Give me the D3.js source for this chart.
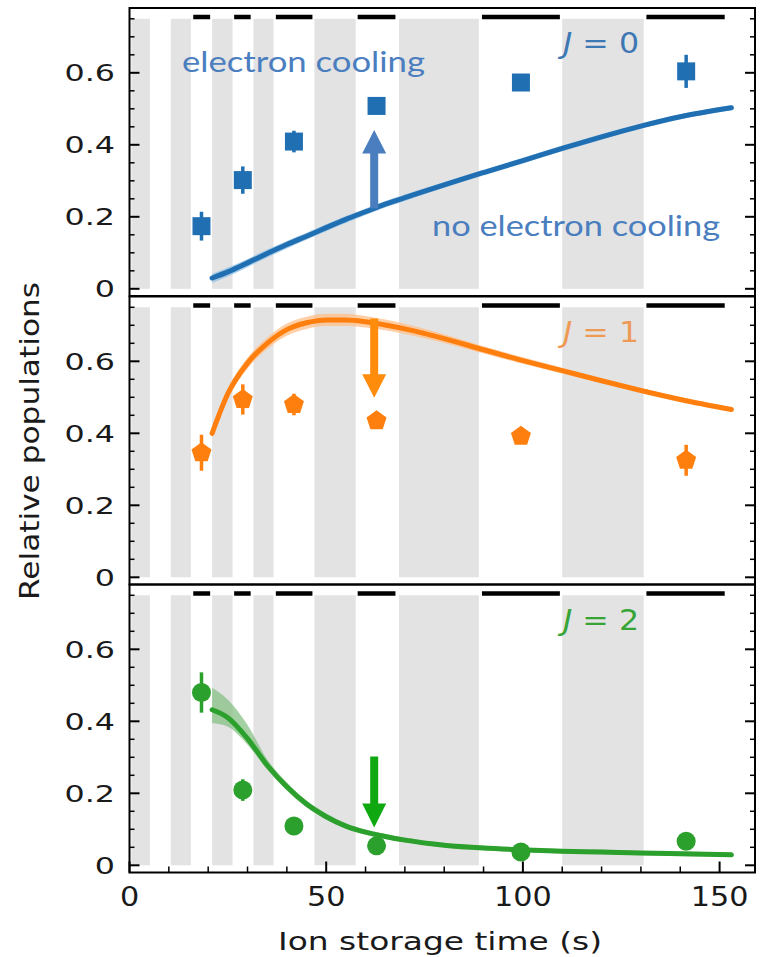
<!DOCTYPE html>
<html>
<head>
<meta charset="utf-8">
<script src="https://cdn.jsdelivr.net/npm/d3@7"></script>
<style>
  html, body { margin: 0; padding: 0; background: #fff; }
  svg { display: block; }
</style>
</head>
<body>
<svg id="chart" width="761" height="957"></svg>
<script>
// Measurement times (s) shared by the three rotational levels
const times = [18.3, 28.8, 41.8, 62.8, 99.5, 141.5];

// Measured relative populations (with electron cooling) and their uncertainties
const j0Values = [0.174, 0.302, 0.409, 0.508, 0.573, 0.604];
const j0Errors = [0.040, 0.038, 0.030, 0.015, 0.012, 0.046];
const j1Values = [0.346, 0.494, 0.480, 0.435, 0.392, 0.325];
const j1Errors = [0.050, 0.042, 0.030, 0.022, 0.018, 0.043];
const j2Values = [0.480, 0.209, 0.109, 0.054, 0.037, 0.067];
const j2Errors = [0.056, 0.030, 0.015, 0.012, 0.010, 0.012];

// Model without electron cooling: central value and uncertainty band
const modelTimes = [21, 25, 30, 35, 40, 45, 50, 55, 60, 65, 70, 80, 90, 100, 110, 120, 130, 140, 153];
const j0Model = [0.030, 0.047, 0.072, 0.098, 0.123, 0.146, 0.170, 0.193, 0.214, 0.235, 0.253, 0.289, 0.323, 0.356, 0.390, 0.422, 0.452, 0.478, 0.503];
const j0Low   = [0.016, 0.034, 0.060, 0.087, 0.112, 0.136, 0.160, 0.183, 0.205, 0.226, 0.244, 0.281, 0.315, 0.348, 0.382, 0.414, 0.445, 0.471, 0.496];
const j0High  = [0.042, 0.059, 0.083, 0.109, 0.133, 0.156, 0.179, 0.202, 0.223, 0.244, 0.262, 0.297, 0.331, 0.364, 0.398, 0.430, 0.459, 0.485, 0.510];
const j1Model = [0.400, 0.510, 0.595, 0.650, 0.688, 0.707, 0.715, 0.715, 0.710, 0.701, 0.690, 0.663, 0.632, 0.602, 0.574, 0.546, 0.519, 0.494, 0.466];
const j1Low   = [0.388, 0.496, 0.580, 0.634, 0.671, 0.690, 0.698, 0.698, 0.694, 0.686, 0.676, 0.651, 0.622, 0.593, 0.566, 0.539, 0.513, 0.488, 0.460];
const j1High  = [0.412, 0.524, 0.610, 0.666, 0.705, 0.724, 0.732, 0.732, 0.726, 0.716, 0.704, 0.675, 0.642, 0.611, 0.582, 0.553, 0.525, 0.500, 0.472];
const j2Model = [0.432, 0.410, 0.352, 0.278, 0.218, 0.170, 0.135, 0.109, 0.092, 0.080, 0.070, 0.056, 0.048, 0.043, 0.039, 0.037, 0.034, 0.032, 0.029];
const j2Low   = [0.395, 0.385, 0.335, 0.266, 0.208, 0.161, 0.127, 0.102, 0.085, 0.073, 0.064, 0.050, 0.042, 0.037, 0.033, 0.031, 0.028, 0.026, 0.023];
const j2High  = [0.493, 0.460, 0.390, 0.294, 0.230, 0.180, 0.144, 0.117, 0.099, 0.087, 0.077, 0.062, 0.054, 0.049, 0.045, 0.043, 0.040, 0.038, 0.035];

// Shaded intervals and black bars marking the measurement windows (s)
const shadeStarts = [0.5, 10.5, 21.0, 31.5, 47.0, 68.5, 110.0];
const shadeEnds   = [5.2, 15.6, 26.2, 36.6, 57.5, 88.8, 130.7];
const barStarts = [16.2, 26.6, 37.2, 58.0, 89.6, 131.4];
const barEnds   = [20.5, 30.8, 46.5, 67.6, 109.4, 151.3];

// Arrows: time, start value, head base value, tip value
const arrowTime = 62.2;
const arrowJ0 = [0.223, 0.376, 0.441];
const arrowJ1 = [0.719, 0.564, 0.499];
const arrowJ2 = [0.302, 0.172, 0.105];

// Tick labels
const xTickValues = [0, 50, 100, 150];
const yTickValues = [0, 0.2, 0.4, 0.6];
const yTickLabels = ["0", "0.2", "0.4", "0.6"];

const svg = d3.select("#chart");
const left = 129.5, right = 755;
const panelTops = [8, 296.5, 584.5];
const panelHeight = 288;

const x = d3.scaleLinear().domain([0, 159]).range([left, right]);

function stretch(sel, k) {
  sel.each(function () {
    const w = this.getComputedTextLength();
    d3.select(this).attr("textLength", w * k).attr("lengthAdjust", "spacingAndGlyphs");
  });
}

function pentagon(r) {
  const pts = d3.range(5).map(i => {
    const a = -Math.PI / 2 + i * 2 * Math.PI / 5;
    return [r * Math.cos(a), r * Math.sin(a)];
  });
  return "M" + pts.map(p => p.join(",")).join("L") + "Z";
}

const panels = [
  { values: j0Values, errors: j0Errors, model: j0Model, low: j0Low, high: j0High,
    color: "#1f6fb2", band: "#8fc0e6", label: "0", labelColor: "#3d78b4", marker: "square",
    arrow: arrowJ0, arrowColor: "#4a7ebf" },
  { values: j1Values, errors: j1Errors, model: j1Model, low: j1Low, high: j1High,
    color: "#ff7f0e", band: "#ffc08a", label: "1", labelColor: "#ee9a55", marker: "pentagon",
    arrow: arrowJ1, arrowColor: "#ff8c0a" },
  { values: j2Values, errors: j2Errors, model: j2Model, low: j2Low, high: j2High,
    color: "#2ca02c", band: "#86c086", label: "2", labelColor: "#36a536", marker: "circle",
    arrow: arrowJ2, arrowColor: "#10a810" }
];

panels.forEach((p, i) => {
  const top = panelTops[i];
  const y = d3.scaleLinear().domain([-0.02, 0.78]).range([top + panelHeight, top]);
  const g = svg.append("g");

  // shaded windows
  g.selectAll("rect.shade").data(shadeStarts).join("rect")
    .attr("x", (d, k) => x(d)).attr("width", (d, k) => x(shadeEnds[k]) - x(d))
    .attr("y", y(0.75)).attr("height", y(0) - y(0.75))
    .attr("fill", "#e3e3e3");

  // black bars
  g.selectAll("line.bar").data(barStarts).join("line")
    .attr("x1", d => x(d)).attr("x2", (d, k) => x(barEnds[k]))
    .attr("y1", y(0.755)).attr("y2", y(0.755))
    .attr("stroke", "#000").attr("stroke-width", 4.5);

  // model band and line
  const area = d3.area().curve(d3.curveMonotoneX)
    .x((d, k) => x(modelTimes[k])).y0((d, k) => y(p.low[k])).y1((d, k) => y(p.high[k]));
  g.append("path").datum(p.model).attr("d", area).attr("fill", p.band).attr("opacity", 0.75);
  const line = d3.line().curve(d3.curveMonotoneX)
    .x((d, k) => x(modelTimes[k])).y(d => y(d));
  g.append("path").datum(p.model).attr("d", line)
    .attr("fill", "none").attr("stroke", p.color).attr("stroke-width", 5).attr("stroke-linecap", "round");

  // error bars
  g.selectAll("line.err").data(p.values).join("line")
    .attr("x1", (d, k) => x(times[k])).attr("x2", (d, k) => x(times[k]))
    .attr("y1", (d, k) => y(d - p.errors[k])).attr("y2", (d, k) => y(d + p.errors[k]))
    .attr("stroke", p.color).attr("stroke-width", 3.5);

  // markers
  const mk = g.selectAll("path.mk").data(p.values).join("path")
    .attr("transform", (d, k) => `translate(${x(times[k])},${y(d)})`)
    .attr("fill", p.color);
  if (p.marker === "square") mk.attr("d", "M-9,-9H9V9H-9Z");
  else if (p.marker === "pentagon") mk.attr("d", pentagon(10.5));
  else mk.attr("d", d3.symbol(d3.symbolCircle, Math.PI * 9.5 * 9.5)());

  // arrow
  const ax = x(arrowTime);
  const [a0, a1, a2] = p.arrow.map(v => y(v));
  const sw = 4, hw = 12;
  g.append("path")
    .attr("d", `M${ax - sw},${a0}L${ax - sw},${a1}L${ax - hw},${a1}L${ax},${a2}L${ax + hw},${a1}L${ax + sw},${a1}L${ax + sw},${a0}Z`)
    .attr("fill", p.arrowColor);

  // level label
  const lt = g.append("text").attr("x", 563).attr("y", y(0.655))
    .attr("font-family", "DejaVu Sans").attr("font-size", 29).attr("fill", p.labelColor);
  lt.append("tspan").attr("font-style", "italic").text("J");
  lt.append("tspan").text(" = " + p.label);
  lt.attr("textLength", 76).attr("lengthAdjust", "spacingAndGlyphs");

  // y ticks (left and right, inward)
  const minor = d3.range(0, 0.7501, 0.05);
  const isMajor = v => yTickValues.some(t => Math.abs(t - v) < 1e-6);
  [left, right].forEach((ex, side) => {
    const dir = side === 0 ? 1 : -1;
    g.selectAll(null).data(minor).join("line")
      .attr("x1", ex).attr("x2", d => ex + dir * (isMajor(d) ? 10 : 5))
      .attr("y1", d => y(d)).attr("y2", d => y(d))
      .attr("stroke", "#000").attr("stroke-width", d => isMajor(d) ? 2 : 1.5);
  });

  const tl = g.selectAll("text.yt").data(yTickValues).join("text")
    .attr("x", 115).attr("y", d => y(d)).attr("dy", "0.36em")
    .attr("text-anchor", "end")
    .attr("font-family", "DejaVu Sans").attr("font-size", 23).attr("fill", "#1a1a1a")
    .text((d, k) => yTickLabels[k]);
  stretch(tl, 1.38);

  // frame
  g.append("rect").attr("x", left).attr("y", top).attr("width", right - left).attr("height", panelHeight)
    .attr("fill", "none").attr("stroke", "#000").attr("stroke-width", 2);

  if (i === 2) {
    const bottom = top + panelHeight;
    const xt = d3.range(0, 151, 10);
    g.selectAll(null).data(xt).join("line")
      .attr("x1", d => x(d)).attr("x2", d => x(d))
      .attr("y1", bottom).attr("y2", d => bottom - (d % 50 === 0 ? 11 : 6))
      .attr("stroke", "#000").attr("stroke-width", d => d % 50 === 0 ? 2 : 1.5);
    const xl = g.selectAll("text.xt").data(xTickValues).join("text")
      .attr("x", d => x(d)).attr("y", 906).attr("text-anchor", "middle")
      .attr("font-family", "DejaVu Sans").attr("font-size", 27).attr("fill", "#1a1a1a")
      .text(d => d);
    stretch(xl, 1.12);
  }
});

// annotations in the top panel
svg.append("text").attr("x", 182).attr("y", 72)
  .attr("font-family", "Lato").attr("font-size", 28).attr("fill", "#4a7ebf")
  .attr("textLength", 243).attr("lengthAdjust", "spacingAndGlyphs")
  .text("electron cooling");
svg.append("text").attr("x", 432).attr("y", 236)
  .attr("font-family", "Lato").attr("font-size", 28).attr("fill", "#4a7ebf")
  .attr("textLength", 288).attr("lengthAdjust", "spacingAndGlyphs")
  .text("no electron cooling");

// axis titles
svg.append("text").attr("x", 440).attr("y", 950).attr("text-anchor", "middle")
  .attr("font-family", "DejaVu Sans").attr("font-size", 25).attr("fill", "#1a1a1a")
  .attr("textLength", 324).attr("lengthAdjust", "spacingAndGlyphs")
  .text("Ion storage time (s)");
svg.append("text").attr("transform", "translate(39,441) rotate(-90)").attr("text-anchor", "middle")
  .attr("font-family", "DejaVu Sans").attr("font-size", 26).attr("fill", "#1a1a1a")
  .attr("textLength", 318).attr("lengthAdjust", "spacingAndGlyphs")
  .text("Relative populations");
</script>
</body>
</html>
